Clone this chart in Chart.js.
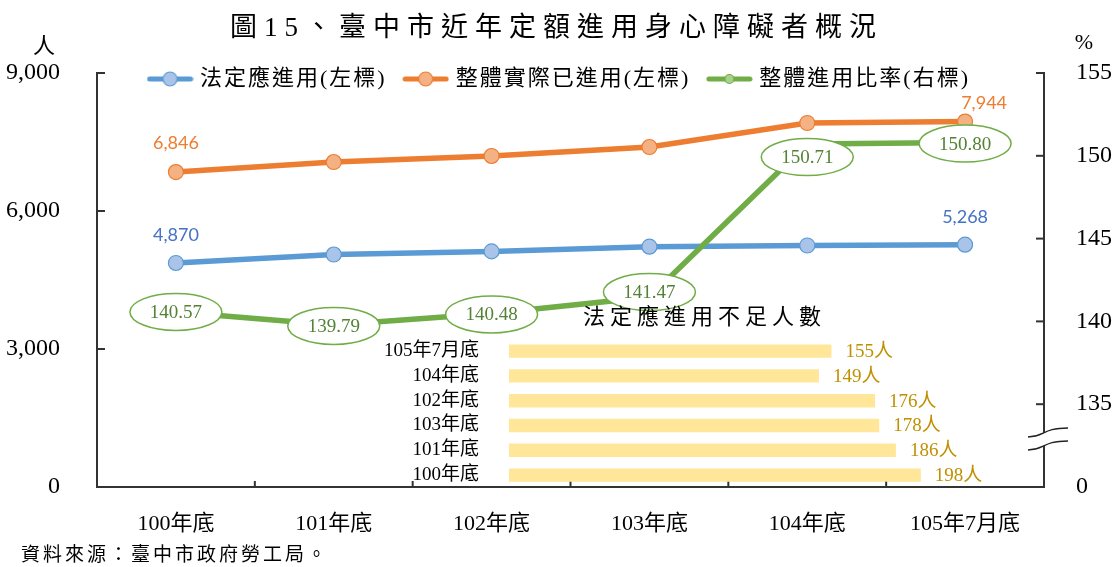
<!DOCTYPE html>
<html><head><meta charset="utf-8">
<script src="https://cdn.jsdelivr.net/npm/chart.js@4.4.1/dist/chart.umd.min.js"></script>
<style>
html,body{margin:0;padding:0;background:#fff;}
#wrap{position:relative;width:1113px;height:567px;overflow:hidden;background:#fff;}
#main{position:absolute;left:0;top:0;width:1113px;height:567px;}
#inset{position:absolute;left:380px;top:290px;width:680px;height:200px;}
</style></head><body>
<div id="wrap"><canvas id="main" width="1113" height="567"></canvas><canvas id="inset" width="680" height="200"></canvas></div>
<script>
// ---- data ----
const categories = ['100年底','101年底','102年底','103年底','104年底','105年7月底'];
const legalQuota = [4870, 5054, 5122, 5224, 5250, 5268];
const actualHired = [6846, 7065, 7196, 7391, 7913, 7944];
const hiringRatio = [140.57, 139.79, 140.48, 141.47, 150.71, 150.80];
const leftTicks = [0, 3000, 6000, 9000];
const rightTicks = [130, 135, 140, 145, 150, 155];
const rightTickLabels = ['0', '135', '140', '145', '150', '155'];
const shortCategories = ['105年7月底','104年底','102年底','103年底','101年底','100年底'];
const shortValues = [155, 149, 176, 178, 186, 198];
const seriesNames = ['法定應進用(左標)','整體實際已進用(左標)','整體進用比率(右標)'];
const titleText = '圖15、臺中市近年定額進用身心障礙者概況';
const insetTitle = '法定應進用不足人數';
const sourceText = '資料來源：臺中市政府勞工局。';
const leftUnit = '人';
const rightUnit = '%';

// ---- styles ----
const SERIF = "'Liberation Serif','Noto Sans CJK TC',serif";
const CJK = "'Noto Sans CJK TC','Liberation Serif',sans-serif";
const NUMF = "Lato,'Open Sans',sans-serif";
const AXIS = '#333333';
const BLUE = '#5B9BD5', BLUE_F = '#A9C4E8';
const ORANGE = '#ED7D31', ORANGE_F = '#F4B183';
const GREEN = '#70AD47', GREEN_F = '#A9D18E';

function legendIcon(line, fill, r) {
  const c = document.createElement('canvas');
  c.width = 47; c.height = 18;
  const g = c.getContext('2d');
  g.strokeStyle = line; g.lineWidth = 5; g.lineCap = 'round';
  g.beginPath(); g.moveTo(3, 9); g.lineTo(44, 9); g.stroke();
  g.beginPath(); g.arc(23.5, 9, r, 0, Math.PI * 2);
  g.fillStyle = fill; g.fill();
  g.lineWidth = 1.2; g.strokeStyle = line; g.stroke();
  return c;
}
const icons = [legendIcon(BLUE, BLUE_F, 7), legendIcon(ORANGE, ORANGE_F, 7), legendIcon(GREEN, GREEN_F, 4.5)];

const spacingPlugin = {
  id: 'spacing',
  afterInit(chart, args, opts) {
    const wrap = (obj, methods, sp) => {
      if (!obj || !sp) return;
      methods.forEach(m => {
        const orig = obj[m];
        obj[m] = function (...a) {
          const c = this.ctx; const prev = c.letterSpacing;
          c.letterSpacing = sp;
          try { return orig.apply(this, a); } finally { c.letterSpacing = prev; }
        };
      });
    };
    wrap(chart.legend, ['fit', 'draw'], opts.legend);
    wrap(chart.titleBlock, ['draw'], opts.title);
  }
};

const legendPlace = {
  id: 'legendPlace',
  afterLayout(chart, args, opts) {
    const lg = chart.legend;
    if (!lg) return;
    lg.height = 44;
    lg.top = opts.top; lg.bottom = opts.top + lg.height;
    lg.left += opts.dx; lg.right += opts.dx;
  }
};

const mainLabels = {
  id: 'mainLabels',
  afterDatasetsDraw(chart) {
    const ctx = chart.ctx;
    ctx.save();
    const gMeta = chart.getDatasetMeta(2);
    const gOff = [0, 1, 1, -5, 13, 1];
    ctx.font = '19px ' + SERIF;
    ctx.textAlign = 'center'; ctx.textBaseline = 'middle';
    gMeta.data.forEach((pt, i) => {
      const x = pt.x, y = pt.y + gOff[i];
      ctx.beginPath(); ctx.ellipse(x, y, 46, 18.5, 0, 0, Math.PI * 2);
      ctx.fillStyle = '#fff'; ctx.fill();
      ctx.lineWidth = 1.5; ctx.strokeStyle = GREEN; ctx.stroke();
      ctx.fillStyle = '#538135';
      ctx.fillText(hiringRatio[i].toFixed(2), x, y + 1);
    });
    ctx.font = '18px ' + NUMF;
    const fmt = v => v.toLocaleString('en-US');
    const oMeta = chart.getDatasetMeta(1), bMeta = chart.getDatasetMeta(0);
    const last = categories.length - 1;
    ctx.fillStyle = ORANGE;
    ctx.fillText(fmt(actualHired[0]), oMeta.data[0].x, oMeta.data[0].y - 29);
    ctx.fillText(fmt(actualHired[last]), oMeta.data[last].x + 19, oMeta.data[last].y - 18);
    ctx.fillStyle = '#4472C4';
    ctx.fillText(fmt(legalQuota[0]), bMeta.data[0].x, bMeta.data[0].y - 28);
    ctx.fillText(fmt(legalQuota[last]), bMeta.data[last].x, bMeta.data[last].y - 27);
    ctx.restore();
  }
};

const decor = {
  id: 'decor',
  afterDraw(chart) {
    const ctx = chart.ctx;
    const {left, right, bottom} = chart.chartArea;
    const ys = chart.scales.y, y1 = chart.scales.y1, xs = chart.scales.x;
    ctx.save();
    ctx.strokeStyle = AXIS; ctx.lineWidth = 2;
    const seg = (a, b, c, d) => { ctx.beginPath(); ctx.moveTo(a, b); ctx.lineTo(c, d); ctx.stroke(); };
    leftTicks.forEach(v => { const y = ys.getPixelForValue(v); seg(left, y, left + 8, y); });
    rightTicks.slice(1).forEach(v => { const y = y1.getPixelForValue(v); seg(right - 8, y, right, y); });
    for (let i = 0; i <= categories.length; i++) {
      const x = xs.getPixelForValue(i - 0.5);
      seg(x, bottom, x, bottom - 6);
    }
    const ym = y1.getPixelForValue(132.9);
    const R = right;
    ctx.beginPath();
    ctx.moveTo(R - 16, ym - 2); ctx.bezierCurveTo(R + 1, ym - 2, R - 2, ym - 11, R + 24, ym - 11);
    ctx.lineTo(R + 24, ym + 2);
    ctx.bezierCurveTo(R - 2, ym + 2, R + 1, ym + 11, R - 16, ym + 11);
    ctx.closePath();
    ctx.fillStyle = '#fff'; ctx.fill();
    ctx.lineWidth = 1.4; ctx.strokeStyle = '#222';
    ctx.beginPath(); ctx.moveTo(R - 16, ym - 2); ctx.bezierCurveTo(R + 1, ym - 2, R - 2, ym - 11, R + 24, ym - 11); ctx.stroke();
    ctx.beginPath(); ctx.moveTo(R - 16, ym + 11); ctx.bezierCurveTo(R + 1, ym + 11, R - 2, ym + 2, R + 24, ym + 2); ctx.stroke();
    ctx.fillStyle = '#000'; ctx.textAlign = 'center'; ctx.textBaseline = 'middle';
    ctx.font = '22px ' + CJK;
    ctx.fillText(leftUnit, 44, 45);
    ctx.font = '22px ' + SERIF;
    ctx.fillText(rightUnit, 1084, 43);
    ctx.font = '19px ' + CJK; ctx.textAlign = 'left';
    ctx.letterSpacing = '3px';
    ctx.fillText(sourceText, 21, 554);
    ctx.restore();
  }
};

new Chart(document.getElementById('main'), {
  type: 'line',
  data: {
    labels: categories,
    datasets: [
      { label: seriesNames[0], data: legalQuota, yAxisID: 'y', borderColor: BLUE, backgroundColor: BLUE_F,
        pointBackgroundColor: BLUE_F, pointBorderColor: BLUE, pointRadius: 7.5, pointBorderWidth: 1.2, borderWidth: 5.5 },
      { label: seriesNames[1], data: actualHired, yAxisID: 'y', borderColor: ORANGE, backgroundColor: ORANGE_F,
        pointBackgroundColor: ORANGE_F, pointBorderColor: ORANGE, pointRadius: 7.5, pointBorderWidth: 1.2, borderWidth: 5.5 },
      { label: seriesNames[2], data: hiringRatio, yAxisID: 'y1', borderColor: GREEN, backgroundColor: GREEN_F,
        pointBackgroundColor: GREEN_F, pointBorderColor: GREEN, pointRadius: 5, pointBorderWidth: 1, borderWidth: 5.5, order: -1 }
    ]
  },
  options: {
    responsive: false, maintainAspectRatio: false, animation: false, devicePixelRatio: 1, events: [],
    layout: { padding: { top: 0, left: 0, right: 0, bottom: 0 } },
    scales: {
      x: {
        type: 'category', offset: true,
        grid: { display: false },
        border: { display: true, color: AXIS, width: 2 },
        ticks: { color: '#000', font: { family: SERIF, size: 22 }, padding: 16, maxRotation: 0, autoSkip: false },
        afterFit: s => { s.height = 80; }
      },
      y: {
        position: 'left', min: 0, max: 9000,
        grid: { display: false },
        border: { display: true, color: AXIS, width: 2 },
        afterBuildTicks: s => { s.ticks = leftTicks.map(v => ({ value: v })); },
        ticks: { color: '#000', font: { family: SERIF, size: 24 }, padding: 29, callback: v => Number(v).toLocaleString('en-US') },
        afterFit: s => { s.width = 97; }
      },
      y1: {
        position: 'right', min: 130, max: 155,
        grid: { display: false },
        border: { display: true, color: AXIS, width: 2 },
        afterBuildTicks: s => { s.ticks = rightTicks.map(v => ({ value: v })); },
        ticks: { color: '#000', font: { family: SERIF, size: 24 }, padding: 24, callback: (v, i) => rightTickLabels[i] },
        afterFit: s => { s.width = 69; }
      }
    },
    plugins: {
      tooltip: { enabled: false },
      title: { display: true, text: titleText, color: '#000', font: { family: SERIF, size: 27, weight: 'normal' }, padding: { top: 13, bottom: 0 } },
      legend: {
        display: true, position: 'top', maxHeight: 27.6,
        labels: {
          usePointStyle: true, pointStyleWidth: 38, boxHeight: 22, padding: 20, color: '#000',
          font: { family: SERIF, size: 22 },
          sort: (a, b) => a.datasetIndex - b.datasetIndex,
          generateLabels: chart => {
            const items = Chart.defaults.plugins.legend.labels.generateLabels(chart);
            items.forEach(it => { it.pointStyle = icons[it.datasetIndex]; it.fontColor = '#000'; });
            return items;
          }
        }
      },
      spacing: { legend: '2px', title: '7px' },
      legendPlace: { top: 48, dx: 4 }
    }
  },
  plugins: [spacingPlugin, legendPlace, mainLabels, decor]
});

const insetLabels = {
  id: 'insetLabels',
  afterDatasetsDraw(chart) {
    const ctx = chart.ctx;
    const meta = chart.getDatasetMeta(0);
    const vals = chart.data.datasets[0].data;
    ctx.save();
    ctx.font = '19px ' + SERIF; ctx.fillStyle = '#BF9000';
    ctx.textAlign = 'left'; ctx.textBaseline = 'middle';
    meta.data.forEach((bar, i) => { ctx.fillText(vals[i] + '人', bar.x + 14, bar.y + 1); });
    ctx.restore();
  }
};

new Chart(document.getElementById('inset'), {
  type: 'bar',
  data: {
    labels: shortCategories,
    datasets: [{ data: shortValues, backgroundColor: '#FFE699', barPercentage: 0.54, categoryPercentage: 1 }]
  },
  options: {
    indexAxis: 'y', responsive: false, maintainAspectRatio: false, animation: false, devicePixelRatio: 1, events: [],
    layout: { padding: { top: 0, right: 31, bottom: 2.5, left: 0 } },
    scales: {
      x: { display: false, min: 0, max: 250 },
      y: {
        grid: { display: false }, border: { display: false },
        ticks: { color: '#000', font: { family: SERIF, size: 19 }, padding: 22, autoSkip: false },
        afterFit: s => { s.width = 129; s.paddingTop = 0; s.paddingBottom = 0; }
      }
    },
    plugins: {
      legend: { display: false }, tooltip: { enabled: false },
      title: { display: true, text: insetTitle, color: '#000', font: { family: SERIF, size: 22, weight: 'normal' }, padding: { top: 15.4, bottom: 6.9 } },
      spacing: { title: '5px' }
    }
  },
  plugins: [spacingPlugin, insetLabels]
});
</script>
</body></html>
